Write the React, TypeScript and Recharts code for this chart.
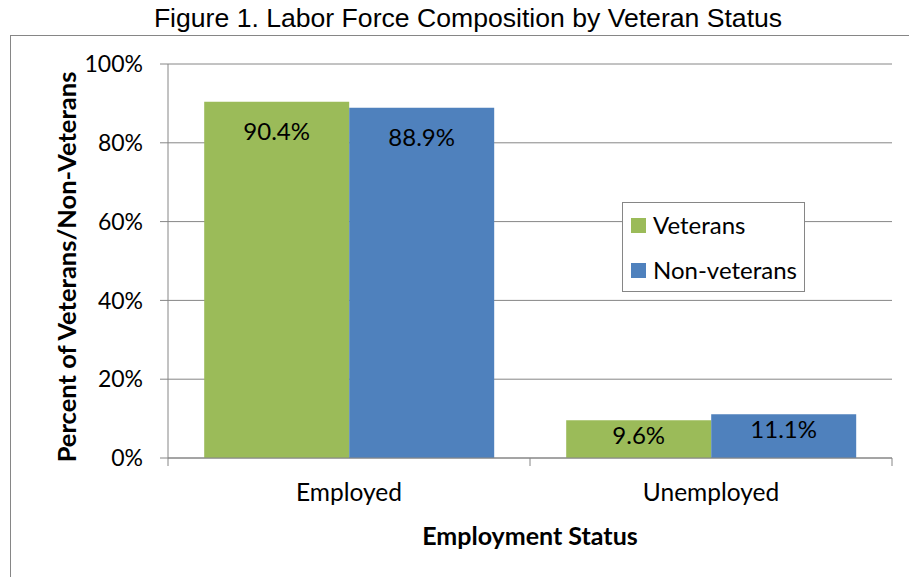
import { BarChart, Bar, XAxis, YAxis, CartesianGrid, Legend, LabelList } from 'recharts';

const categories = ['Employed', 'Unemployed'];
const veterans = [90.4, 9.6];
const nonVeterans = [88.9, 11.1];
const yTicks = [0, 20, 40, 60, 80, 100];

const series = [
  { key: 'veterans', name: 'Veterans', color: '#9BBB59' },
  { key: 'nonVeterans', name: 'Non-veterans', color: '#4F81BD' },
];

const data = categories.map((category, i) => ({
  category,
  veterans: veterans[i],
  nonVeterans: nonVeterans[i],
}));

const W = 909;
const H = 577;
const PLOT_LEFT = 168;
const PLOT_RIGHT = 892;
const PLOT_TOP = 64;
const PLOT_BOTTOM = 458;
const BAND = (PLOT_RIGHT - PLOT_LEFT) / categories.length;

const FONT = 'Lato, "Open Sans", sans-serif';
const AXIS_COLOR = '#868686';

function CategoryTick(props: any) {
  const { x, payload, index } = props;
  const left = x - BAND / 2;
  const right = x + BAND / 2;
  return (
    <g>
      <line x1={left} x2={left} y1={PLOT_BOTTOM} y2={PLOT_BOTTOM + 8} stroke={AXIS_COLOR} />
      {index === categories.length - 1 && (
        <line x1={right} x2={right} y1={PLOT_BOTTOM} y2={PLOT_BOTTOM + 8} stroke={AXIS_COLOR} />
      )}
      <text x={x} y={PLOT_BOTTOM + 43} textAnchor="middle" fontSize={24.5} fontFamily={FONT} fill="#000">
        {payload.value}
      </text>
    </g>
  );
}

function ValueLabel(props: any) {
  const { x, y, width, height, value } = props;
  // labels sit a bit lower in the tall bars than in the short ones
  const dy = height > 100 ? 29 : 14;
  return (
    <text
      x={x + width / 2}
      y={y + dy}
      textAnchor="middle"
      dominantBaseline="central"
      fontSize={24}
      fontFamily={FONT}
      fill="#000"
    >
      {`${value.toFixed(1)}%`}
    </text>
  );
}

function LegendBox() {
  return (
    <div
      style={{
        boxSizing: 'border-box',
        width: 183,
        height: 90,
        border: `1.5px solid ${AXIS_COLOR}`,
        background: '#fff',
        fontFamily: FONT,
        fontSize: 24,
        lineHeight: '22px',
        paddingLeft: 8,
        paddingTop: 11,
      }}
    >
      {series.map((s) => (
        <div key={s.key} style={{ display: 'flex', alignItems: 'center', height: 22, marginBottom: 23 }}>
          <span style={{ width: 15, height: 15, background: s.color, marginRight: 7, flexShrink: 0 }} />
          <span>{s.name}</span>
        </div>
      ))}
    </div>
  );
}

export default function App() {
  return (
    <div style={{ position: 'absolute', left: 0, top: 0, width: W, height: H, overflow: 'hidden', background: '#fff' }}>
      <div
        style={{
          position: 'absolute',
          left: 0,
          top: 5,
          width: 936,
          textAlign: 'center',
          fontFamily: '"Liberation Sans", Arial, sans-serif',
          fontSize: 26.6,
          lineHeight: '26px',
          color: '#000',
          whiteSpace: 'nowrap',
        }}
      >
        Figure 1. Labor Force Composition by Veteran Status
      </div>
      <div
        style={{
          position: 'absolute',
          left: 10,
          top: 35,
          width: W,
          height: H,
          borderLeft: `1.5px solid ${AXIS_COLOR}`,
          borderTop: `1.5px solid ${AXIS_COLOR}`,
        }}
      />
      <div style={{ position: 'absolute', left: 0, top: 0 }}>
        <BarChart
          width={W}
          height={H}
          data={data}
          margin={{ top: PLOT_TOP, right: W - PLOT_RIGHT, bottom: 0, left: 0 }}
          barCategoryGap="10%"
          barGap={0}
        >
          <CartesianGrid horizontal vertical={false} stroke={AXIS_COLOR} />
          <XAxis
            dataKey="category"
            height={H - PLOT_BOTTOM}
            axisLine={{ stroke: AXIS_COLOR }}
            tickLine={false}
            tick={<CategoryTick />}
            interval={0}
            label={{
              content: () => (
                <text
                  x={(PLOT_LEFT + PLOT_RIGHT) / 2}
                  y={PLOT_BOTTOM + 87}
                  textAnchor="middle"
                  fontSize={25}
                  fontWeight="bold"
                  fontFamily={FONT}
                  fill="#000"
                >
                  Employment Status
                </text>
              ),
            }}
          />
          <YAxis
            width={PLOT_LEFT}
            domain={[0, 100]}
            ticks={yTicks}
            tickFormatter={(v: number) => `${v}%`}
            tickSize={8}
            tickMargin={17}
            tickLine={{ stroke: AXIS_COLOR }}
            axisLine={{ stroke: AXIS_COLOR }}
            tick={{ fontSize: 23, fontFamily: FONT, fill: '#000' }}
            label={{
              content: () => (
                <text
                  x={66}
                  y={267}
                  transform="rotate(-90 66 267)"
                  textAnchor="middle"
                  dominantBaseline="central"
                  fontSize={25.5}
                  fontWeight="bold"
                  fontFamily={FONT}
                  fill="#000"
                >
                  Percent of Veterans/Non-Veterans
                </text>
              ),
            }}
          />
          <Legend
            layout="vertical"
            align="center"
            verticalAlign="middle"
            wrapperStyle={{ left: 622, top: 202, width: 183, height: 90 }}
            content={() => <LegendBox />}
          />
          {series.map((s) => (
            <Bar key={s.key} dataKey={s.key} name={s.name} fill={s.color} isAnimationActive={false}>
              <LabelList dataKey={s.key} content={<ValueLabel />} />
            </Bar>
          ))}
        </BarChart>
      </div>
    </div>
  );
}
